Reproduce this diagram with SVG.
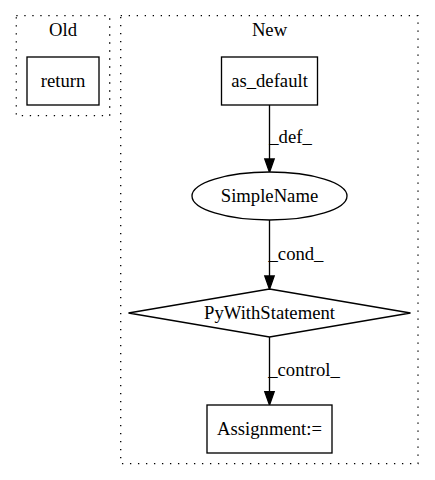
<svg xmlns="http://www.w3.org/2000/svg" width="435" height="480" viewBox="0 0 435 480">
<defs>
<style>
.cl{fill:none;stroke:#000;stroke-width:1.33;stroke-dasharray:1.33,6.67}
.nd{fill:#fff;stroke:#000;stroke-width:1.33}
.ed{fill:none;stroke:#000;stroke-width:1.33}
.ah{fill:#000;stroke:#000;stroke-width:1.33}
</style>
</defs>
<rect width="435" height="480" fill="#fff"/>
<g font-family="Liberation Serif, Times New Roman, serif" font-size="18.67" text-anchor="middle" fill="#000">
<g id="cluster_old">
<rect class="cl" x="16.3" y="15.7" width="93.4" height="100"/>
<text x="63" y="36">Old</text>
</g>
<g id="cluster_new">
<rect class="cl" x="120.7" y="15.7" width="297.3" height="448"/>
<text x="269.5" y="36">New</text>
</g>
<g id="connectors">
<line class="ed" x1="269.5" y1="105" x2="269.5" y2="159"/>
<path class="ah" d="M264.8,159 L269.5,172.3 L274.2,159 Z"/>
<text x="290.5" y="143">_def_</text>
<line class="ed" x1="269.5" y1="220" x2="269.5" y2="276"/>
<path class="ah" d="M264.8,276 L269.5,289.3 L274.2,276 Z"/>
<text x="296" y="259.5">_cond_</text>
<line class="ed" x1="269.5" y1="337" x2="269.5" y2="391.7"/>
<path class="ah" d="M264.8,391.7 L269.5,405 L274.2,391.7 Z"/>
<text x="304" y="376">_control_</text>
</g>
<g id="node_return">
<rect class="nd" x="27" y="57" width="72" height="48"/>
<text x="63" y="86.6">return</text>
</g>
<g id="node_as_default">
<rect class="nd" x="221.5" y="57" width="96" height="48"/>
<text x="269.5" y="86.6">as_default</text>
</g>
<g id="node_SimpleName">
<ellipse class="nd" cx="269.5" cy="196" rx="77.5" ry="24"/>
<text x="269.5" y="201.6">SimpleName</text>
</g>
<g id="node_PyWithStatement">
<polygon class="nd" points="269.5,289 410.5,313 269.5,337 128.5,313"/>
<text x="269.5" y="318.6">PyWithStatement</text>
</g>
<g id="node_Assignment">
<rect class="nd" x="207" y="405" width="125" height="48"/>
<text x="269.5" y="434.6">Assignment:=</text>
</g>
</g>
</svg>
